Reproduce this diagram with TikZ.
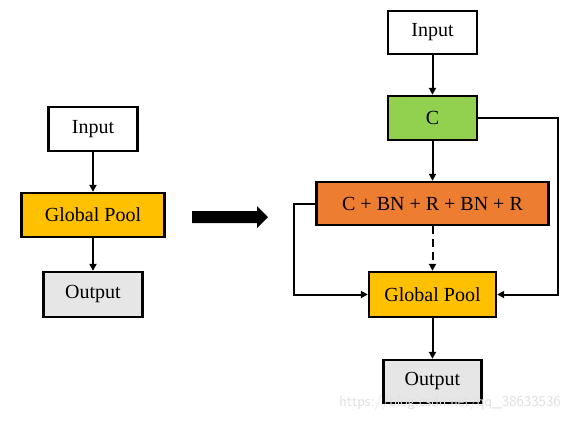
\documentclass[tikz,border=0pt]{standalone}
\usepackage{fontspec}
\setmainfont{Liberation Serif}
\usetikzlibrary{arrows.meta}
\definecolor{cgreen}{HTML}{92D050}
\definecolor{corange}{HTML}{ED7D31}
\definecolor{cgold}{HTML}{FFC000}
\definecolor{cgray}{HTML}{E7E6E6}
\begin{document}
\begin{tikzpicture}[x=1pt,y=-1pt,
  box/.style={draw=black,line width=2.4pt,rectangle,inner sep=0pt,font=\fontsize{20}{23}\selectfont},
  conn/.style={line width=2pt,-{Triangle[length=7pt,width=7pt]}}]
\useasboundingbox[fill=white] (0,0) rectangle (581,421);
% left column
\node[box,fill=white,minimum width=89pt,minimum height=44pt] (li) at (93,129) {Input};
\node[box,fill=cgold,minimum width=143pt,minimum height=44pt] (lg) at (93,215) {Global Pool};
\node[box,fill=cgray,minimum width=99pt,minimum height=45pt] (lo) at (93,294.5) {Output};
\draw[conn] (li) -- (lg);
\draw[conn] (lg) -- (lo);
% big arrow
\coordinate (a0) at (192,217);
\coordinate (a1) at (268,217);
\fill[black] (a0) ++(0,-6) -- (257,211) -- (257,206) -- (a1) -- (257,228) -- (257,223) -- (192,223) -- cycle;
% right column
\node[box,fill=white,minimum width=89pt,minimum height=43pt] (ri) at (432.5,32.5) {Input};
\node[box,fill=cgreen,minimum width=89pt,minimum height=44pt] (rc) at (432.5,118) {C};
\node[box,fill=corange,minimum width=232pt,minimum height=43pt] (rb) at (432.5,203.5) {C + BN + R + BN + R};
\node[box,fill=cgold,minimum width=127pt,minimum height=45pt] (rg) at (432.5,294.5) {Global Pool};
\node[box,fill=cgray,minimum width=98pt,minimum height=43pt] (ro) at (432.5,381.5) {Output};
\draw[conn] (ri) -- (rc);
\draw[conn] (rc) -- (rb);
\draw[conn,dash pattern=on 8pt off 5pt] (rb) -- (rg);
\draw[conn] (rg) -- (ro);
\draw[conn] (rc.east) -- (558,118) |- (rg.east);
\draw[conn] (rb.west) -- (294,203.5) |- (rg.west);
% watermark
\node[font=\fontsize{15}{17}\selectfont\sffamily,text=gray!25] (wm) at (450,403) {https://blog.csdn.net/qq\_38633536};
\end{tikzpicture}
\end{document}
